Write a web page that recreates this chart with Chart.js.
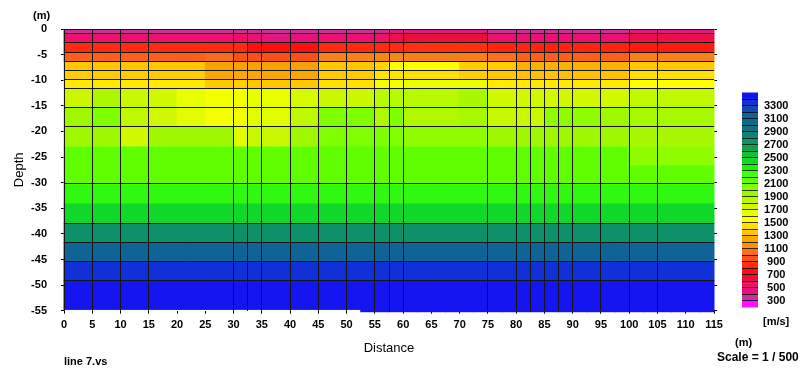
<!DOCTYPE html>
<html lang="en">
  <head>
    <meta charset="UTF-8" />
    <title>line 7.vs</title>
    <script src="https://cdn.jsdelivr.net/npm/chart.js"></script>
    <style>
      body { margin: 0; background: #fff; }
      #wrap { position: relative; width: 800px; height: 374px; overflow: hidden; }
      #section { position: absolute; left: 0; top: 0; }
      #scalebar { position: absolute; left: 735px; top: 80px; }
      .note {
        position: absolute;
        font-family: "Liberation Sans", Arial, sans-serif;
        font-weight: bold;
        font-size: 11px;
        line-height: 13px;
        color: #000;
        white-space: nowrap;
      }
    </style>
  </head>
  <body>
    <div id="wrap">
      <canvas id="section" width="800" height="374"></canvas>
      <canvas id="scalebar" width="65" height="240"></canvas>
      <div class="note" style="left: 33px; top: 9px">(m)</div>
      <div class="note" style="left: 64px; top: 355px">line 7.vs</div>
      <div class="note" style="left: 735px; top: 336px">(m)</div>
      <div class="note" style="left: 763px; top: 315px">[m/s]</div>
      <div class="note" style="left: 717px; top: 351px; font-size: 12px">Scale = 1 / 500</div>
    </div>

    <script>
      // axis ticks
      const distanceTicks = [0, 5, 10, 15, 20, 25, 30, 35, 40, 45, 50, 55, 60, 65, 70, 75, 80, 85, 90, 95, 100, 105, 110, 115];
      const depthTicks = [0, -5, -10, -15, -20, -25, -30, -35, -40, -45, -50, -55];
      const velocityLabels = [300, 500, 700, 900, 1100, 1300, 1500, 1700, 1900, 2100, 2300, 2500, 2700, 2900, 3100, 3300];

      // model nodes (vertical lines) and layer boundaries (horizontal lines)
      const nodeDistance = [0, 5, 10, 15, 30, 32.5, 35, 40, 45, 50, 55, 57.5, 60, 75, 80, 82.5, 85, 87.5, 90, 95, 100, 105];
      const boundaryDepth = [0, -0.84, -2.6, -4.55, -6.3, -8.06, -9.82, -11.58, -15.29, -19.04, -30.26, -37.93, -41.68, -45.35, -49.06];

      // top depth of each velocity row
      const rowTop = [0, -0.84, -2.6, -4.55, -6.3, -8.06, -9.82, -11.58, -15.29, -19.04, -22.84, -26.55, -30.26, -33.97, -37.93, -41.68, -45.35, -49.06];
      // bottom of the section: [end distance, depth]
      const baseDepth = [[52.5, -54.75], [115, -55.2]];

      // velocity (m/s) along each row: [end distance, velocity]
      const row0 = [[55, 400], [57.5, 420], [75, 470], [100, 400], [115, 470]];
      const row1 = [[30, 560], [32.5, 580], [35, 520], [40, 480], [45, 500], [55, 540], [57.5, 600], [60, 650], [75, 700], [100, 540], [115, 660]];
      const row2 = [[32.5, 880], [45, 800], [60, 880], [75, 900], [100, 860], [115, 830]];
      const row3 = [[25, 1050], [30, 1080], [45, 1000], [55, 1150], [60, 1170], [75, 1150], [80, 1100], [100, 1050], [115, 1150]];
      const row4 = [[25, 1400], [45, 1270], [55, 1400], [57.5, 1450], [70, 1600], [80, 1420], [100, 1330], [115, 1400]];
      const row5 = [[25, 1420], [45, 1300], [55, 1420], [60, 1520], [70, 1500], [75, 1420], [80, 1400], [100, 1380], [115, 1500]];
      const row6 = [[25, 1530], [30, 1400], [32.5, 1430], [45, 1400], [55, 1500], [60, 1650], [75, 1700], [100, 1530], [115, 1600]];
      const row7 = [[5, 1830], [10, 1950], [15, 1830], [20, 1800], [25, 1700], [32.5, 1650], [40, 1700], [45, 1770], [55, 1830], [70, 1900], [75, 1970], [100, 1800], [115, 1870]];
      const row8 = [[5, 2000], [10, 2100], [15, 1870], [20, 1800], [25, 1730], [32.5, 1650], [40, 1730], [45, 1870], [55, 2100], [57.5, 1930], [60, 2100], [70, 1930], [75, 1970], [85, 1830], [95, 2050], [100, 2000], [115, 1970]];
      const row9 = [[10, 2000], [15, 1800], [30, 2000], [32.5, 1730], [40, 1830], [45, 2000], [60, 2100], [75, 2050], [100, 2000], [115, 1970]];
      const row10 = [[100, 2200], [115, 2050]];
      const row11 = [[115, 2200]];
      const row12 = [[115, 2350]];
      const row13 = [[115, 2500]];
      const row14 = [[115, 2800]];
      const row15 = [[115, 3150]];
      const row16 = [[115, 3400]];
      const row17 = [[115, 3500]];
      const rows = [row0, row1, row2, row3, row4, row5, row6, row7, row8, row9, row10, row11, row12, row13, row14, row15, row16, row17];

      // colour scale
      const scaleVelocity = [200, 300, 400, 500, 600, 700, 800, 900, 1000, 1100, 1200, 1300, 1400, 1500, 1600, 1700, 1800, 1900, 2000, 2100, 2200, 2300, 2400, 2500, 2600, 2700, 2800, 2900, 3000, 3100, 3200, 3300, 3400, 3500];
      const scaleColour = ["#ff10ff", "#ff10ff", "#c8309a", "#e8107a", "#f01064", "#e81038", "#ff1010", "#ff3010", "#f85018", "#f87020", "#f89010", "#f8a800", "#ffc800", "#ffe000", "#ffff00", "#e8ff00", "#d0f800", "#b8f800", "#a0f800", "#80ff00", "#60ff00", "#40ff10", "#20f010", "#10d828", "#10c038", "#10a050", "#109068", "#108070", "#107080", "#106890", "#10609a", "#1048b0", "#1030d8", "#1414f0"];

      const CELL = 2.5; // model cell width, m
      const FONT = "'Liberation Sans', Arial, sans-serif";

      function hexToRgb(h) {
        const n = parseInt(h.slice(1), 16);
        return [(n >> 16) & 255, (n >> 8) & 255, n & 255];
      }

      function colourFor(v) {
        if (v <= scaleVelocity[0]) return scaleColour[0];
        for (let i = 1; i < scaleVelocity.length; i++) {
          if (v <= scaleVelocity[i]) {
            const t = (v - scaleVelocity[i - 1]) / (scaleVelocity[i] - scaleVelocity[i - 1]);
            const a = hexToRgb(scaleColour[i - 1]);
            const b = hexToRgb(scaleColour[i]);
            const c = a.map((ch, k) => Math.round(ch + (b[k] - ch) * t));
            return "rgb(" + c.join(",") + ")";
          }
        }
        return scaleColour[scaleColour.length - 1];
      }

      function baseAt(x) {
        for (const [end, d] of baseDepth) if (x < end) return d;
        return baseDepth[baseDepth.length - 1][1];
      }

      // one floating-bar dataset per velocity row, one bar per model cell
      const datasets = rows.map((runs, r) => {
        const data = [];
        const colours = [];
        let start = 0;
        runs.forEach(([end, v]) => {
          for (let x = start; x < end - 0.01; x += CELL) {
            const bottom = r < rowTop.length - 1 ? rowTop[r + 1] : baseAt(x);
            data.push({ x: x + CELL / 2, y: [rowTop[r], bottom] });
            colours.push(colourFor(v));
          }
          start = end;
        });
        return {
          data: data,
          backgroundColor: colours,
          xAxisID: "x",
          yAxisID: "y",
          grouped: false,
          barPercentage: 1,
          categoryPercentage: 1,
          inflateAmount: 0.5,
          borderWidth: 0,
          clip: false,
        };
      });

      const tickFont = { family: FONT, size: 11, weight: "bold" };

      new Chart(document.getElementById("section"), {
        type: "bar",
        data: { datasets: datasets },
        options: {
          responsive: false,
          animation: false,
          events: [],
          layout: { padding: { left: 0, top: 29, right: 86, bottom: 0 } },
          plugins: { legend: { display: false }, tooltip: { enabled: false } },
          scales: {
            x: {
              type: "linear",
              position: "bottom",
              offset: false,
              min: 0,
              max: 115,
              afterBuildTicks: (s) => { s.ticks = distanceTicks.map((v) => ({ value: v })); },
              ticks: { font: tickFont, color: "#000", padding: 5, maxRotation: 0, autoSkip: false },
              grid: { drawOnChartArea: false, tickLength: 3, color: "#000", offset: false },
              border: { display: false },
              title: { display: true, text: "Distance", color: "#000", font: { family: FONT, size: 13 }, padding: { top: 0, bottom: 18 } },
              afterFit: (s) => { s.height = 63.3; },
            },
            y: {
              type: "linear",
              position: "left",
              min: -55,
              max: 0,
              afterBuildTicks: (s) => { s.ticks = depthTicks.map((v) => ({ value: v })); },
              ticks: { font: tickFont, color: "#000", padding: 14, autoSkip: false },
              grid: { drawOnChartArea: false, tickLength: 3, color: "#000" },
              border: { display: false },
              title: { display: true, text: "Depth", color: "#000", font: { family: FONT, size: 13 }, padding: { top: 12, bottom: 0 } },
              afterFit: (s) => { s.width = 64; },
            },
            yRight: {
              type: "linear",
              position: "right",
              min: -55,
              max: 0,
              afterBuildTicks: (s) => { s.ticks = depthTicks.map((v) => ({ value: v })); },
              ticks: { display: false },
              grid: { drawOnChartArea: false, tickLength: 3, color: "#000" },
              border: { display: false },
              afterFit: (s) => { s.width = 0; },
            },
            xNodes: {
              type: "linear",
              position: "bottom",
              offset: false,
              min: 0,
              max: 115,
              afterBuildTicks: (s) => { s.ticks = nodeDistance.map((v) => ({ value: v })); },
              ticks: { display: false },
              grid: { color: "#141414", lineWidth: 1, drawTicks: false, offset: false, z: 1 },
              border: { display: false },
              afterFit: (s) => { s.height = 0; },
            },
            yLayers: {
              type: "linear",
              position: "left",
              min: -55,
              max: 0,
              afterBuildTicks: (s) => { s.ticks = boundaryDepth.map((v) => ({ value: v })); },
              ticks: { display: false },
              grid: { color: "#141414", lineWidth: 1, drawTicks: false, z: 1 },
              border: { display: false },
              afterFit: (s) => { s.width = 0; },
            },
          },
        },
      });

      // colour scale bar: one floating bar per 100 m/s band
      const bands = [];
      for (let i = 1; i < scaleVelocity.length; i++) {
        bands.push({
          data: [[scaleVelocity[i - 1], scaleVelocity[i]]],
          backgroundColor: scaleColour[i],
          grouped: false,
          barPercentage: 1,
          categoryPercentage: 1,
          inflateAmount: 0.5,
          borderWidth: 0,
        });
      }

      new Chart(document.getElementById("scalebar"), {
        type: "bar",
        data: { labels: ["v"], datasets: bands },
        options: {
          responsive: false,
          animation: false,
          events: [],
          layout: { padding: { left: 7, top: 11, right: 0, bottom: 11 } },
          plugins: { legend: { display: false }, tooltip: { enabled: false } },
          scales: {
            x: { display: false },
            y: {
              position: "right",
              min: 200,
              max: 3500,
              afterBuildTicks: (s) => { s.ticks = scaleVelocity.slice(1, -1).map((v) => ({ value: v })); },
              ticks: {
                font: tickFont,
                color: "#000",
                padding: 6,
                crossAlign: "center",
                autoSkip: false,
                callback: (v) => (velocityLabels.includes(v) ? String(v) : ""),
              },
              grid: { color: "rgba(0,0,0,0.75)", drawTicks: false, z: 1 },
              border: { display: false },
              afterFit: (s) => { s.width = 42; },
            },
          },
        },
      });
    </script>
  </body>
</html>
